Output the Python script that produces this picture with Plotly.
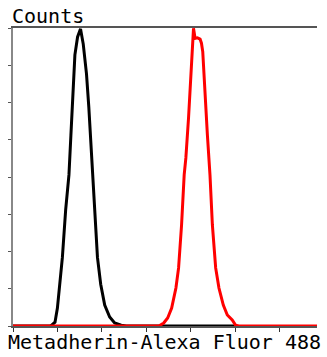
import plotly.graph_objects as go

# Black (control) histogram: x in axis units, y in % of max counts
black_x = [0.0, 0.828, 0.872, 0.946, 1.0, 1.058, 1.112, 1.186, 1.26, 1.304, 1.358, 1.394, 1.454, 1.521,
           1.582, 1.655, 1.707, 1.752, 1.79, 1.841, 1.902, 1.975, 2.065, 2.177, 2.289, 2.438, 2.55, 5.03]
black_y = [0, 0, 0.3, 1.3, 6, 14, 23, 39, 50.7, 64, 78.5, 91, 97, 99.7,
           94.6, 84.6, 73.5, 62, 50.7, 39.6, 23, 14, 7, 3, 1, 0.3, 0, 0]

# Red (Metadherin) histogram
red_x = [0.0, 3.295, 3.394, 3.483, 3.573, 3.631, 3.669, 3.729, 3.796, 3.855, 3.893, 3.953, 4.004, 4.042,
         4.065, 4.101, 4.154, 4.213, 4.244, 4.273, 4.318, 4.378, 4.436, 4.49, 4.564, 4.638, 4.736, 4.826,
         4.937, 5.011, 5.085, 6.846]
red_y = [0, 0.1, 1, 2.7, 6, 10.4, 12.75, 19.5, 33.9, 50.7, 56.4, 69.8, 84.2, 95.4,
         99.9, 96.5, 96.7, 96.3, 94.9, 92.1, 78.6, 64, 50.7, 33.9, 19.5, 12.75, 7, 3.7,
         2, 0.3, 0, 0]

x_ticks = [0, 1, 2, 3, 4, 5, 6]
y_ticks = [0, 12.5, 25, 37.5, 50, 62.5, 75, 87.5, 100]

y_title = "Counts"
x_title = "Metadherin-Alexa Fluor 488"

FONT = "DejaVu Sans Mono"

fig = go.Figure()
fig.add_trace(go.Scatter(x=black_x, y=black_y, mode="lines",
                         line=dict(color="black", width=3), hoverinfo="skip"))
fig.add_trace(go.Scatter(x=red_x, y=red_y, mode="lines",
                         line=dict(color="#ff0000", width=3), hoverinfo="skip"))

fig.update_layout(
    width=327, height=357,
    margin=dict(l=11, r=10, t=28, b=31),
    paper_bgcolor="white", plot_bgcolor="white",
    showlegend=False,
    xaxis=dict(range=[0, 6.846], tickvals=x_ticks, showticklabels=False,
               ticks="outside", ticklen=4, tickwidth=1, tickcolor="#333333",
               showline=True, linecolor="#555555", linewidth=1.5, mirror=True,
               showgrid=False, zeroline=False),
    yaxis=dict(range=[0, 100], tickvals=y_ticks, showticklabels=False,
               ticks="outside", ticklen=3, tickwidth=1, tickcolor="#555555",
               showline=True, linecolor="#888888", linewidth=1.5,
               showgrid=False, zeroline=False),
    annotations=[
        dict(text=y_title, xref="paper", yref="paper", x=0, y=1,
             xanchor="left", yanchor="bottom", showarrow=False, yshift=-2, xshift=-3,
             font=dict(family=FONT, size=20, color="black")),
        dict(text=x_title, xref="paper", yref="paper", x=0.5, y=0,
             xanchor="center", yanchor="top", showarrow=False, yshift=-2, xshift=-1,
             font=dict(family=FONT, size=20, color="black")),
    ],
)

fig.write_html("out.html")
